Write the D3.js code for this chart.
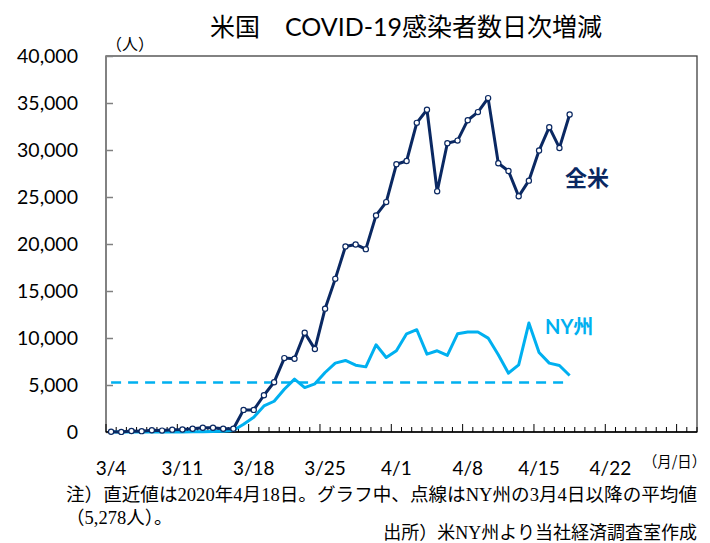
<!DOCTYPE html>
<html>
<head>
<meta charset="utf-8">
<script src="https://cdn.jsdelivr.net/npm/d3@7"></script>
<style>
    body { margin: 0; background: #fff; }
    svg { display: block; }
</style>
</head>
<body>
<div id="chart"></div>
<script>
// values (3/4 .. 4/18)
var usValues = [30, 10, 110, 90, 180, 150, 250, 270, 350, 460, 460, 350, 350, 2350, 2350, 3910, 5300,
    7860, 7790, 10560, 8820, 13120, 16290, 19730, 19950, 19450, 23040, 24460, 28480, 28830, 32890,
    34280, 25600, 30720, 31000, 33170, 34030, 35520, 28590, 27770, 25070, 26740, 29940, 32430, 30220, 33780];
var nyValues = [0, 0, 0, 0, 0, 0, 0, 10, 20, 30, 50, 90, 150, 820, 1560, 2770, 3270, 4550, 5620, 4730,
    5120, 6330, 7330, 7610, 7110, 6930, 9280, 7930, 8640, 10450, 10880, 8280, 8640, 8140, 10450,
    10630, 10630, 9990, 8210, 6260, 7150, 11590, 8460, 7330, 7080, 6010];
var nyAverage = 5278;
var xTickLabels = ["3/4", "3/11", "3/18", "3/25", "4/1", "4/8", "4/15", "4/22"];
var yTicks = [0, 5000, 10000, 15000, 20000, 25000, 30000, 35000, 40000];

// x categories: every day from 3/4 to 4/30
var days = [];
for (var d = 4; d <= 31; d++) days.push("3/" + d);
for (var d = 1; d <= 30; d++) days.push("4/" + d);

var width = 710, height = 543;
var plotLeft = 106, plotRight = 697, plotTop = 56, plotBottom = 432;
var navy = "#0a2862", cyan = "#00b0f0";
var latin = "Lato, 'Noto Sans CJK JP', sans-serif";
var jp = "'Noto Sans CJK JP', sans-serif";

var svg = d3.select("#chart").append("svg")
    .attr("width", width)
    .attr("height", height);

var x = d3.scaleBand().domain(days).range([plotLeft, plotRight]).padding(0);
var y = d3.scaleLinear().domain([0, 40000]).range([plotBottom, plotTop]);
var cx = function(i) { return x(days[i]) + x.bandwidth() / 2; };

// title
svg.append("text")
    .attr("x", 406)
    .attr("y", 36)
    .attr("text-anchor", "middle")
    .attr("font-family", latin)
    .attr("font-size", 25)
    .attr("fill", "#000")
    .text("米国　COVID-19感染者数日次増減");

svg.append("text")
    .attr("x", 106)
    .attr("y", 50)
    .attr("font-family", jp)
    .attr("font-size", 16)
    .text("（人）");

// frame
svg.append("rect")
    .attr("x", plotLeft)
    .attr("y", plotTop)
    .attr("width", plotRight - plotLeft)
    .attr("height", plotBottom - plotTop)
    .attr("fill", "none")
    .attr("stroke", "#404040")
    .attr("stroke-width", 1.3);

// y axis
var yAxis = svg.append("g")
    .attr("transform", "translate(" + plotLeft + ",0)")
    .call(d3.axisLeft(y).tickValues(yTicks).tickFormat(d3.format(",")).tickSize(-7).tickPadding(28));
yAxis.select(".domain").remove();
yAxis.selectAll(".tick line").attr("stroke", "#808080").attr("stroke-width", 1.5);
yAxis.selectAll(".tick text")
    .attr("font-family", latin)
    .attr("font-size", 19.5)
    .attr("fill", "#000");

// x axis ticks at category boundaries
var xTicks = svg.append("g");
for (let k = 0; k <= days.length; k++) {
    var tx = plotLeft + k * x.step();
    xTicks.append("line")
        .attr("x1", tx).attr("x2", tx)
        .attr("y1", plotBottom)
        .attr("y2", plotBottom - (k % 7 == 0 ? 8 : 5))
        .attr("stroke", "#000")
        .attr("stroke-width", 1);
}
svg.append("line")
    .attr("x1", plotLeft).attr("x2", plotRight)
    .attr("y1", plotBottom).attr("y2", plotBottom)
    .attr("stroke", "#000")
    .attr("stroke-width", 1.5);

svg.append("g").selectAll("text")
    .data(xTickLabels)
    .join("text")
    .attr("x", function(t) { return x(t) + x.bandwidth() / 2; })
    .attr("y", 475)
    .attr("text-anchor", "middle")
    .attr("font-family", latin)
    .attr("font-size", 19)
    .attr("fill", "#000")
    .text(function(t) { return t; });

svg.append("text")
    .attr("x", 643)
    .attr("y", 467)
    .attr("font-family", jp)
    .attr("font-size", 15)
    .attr("textLength", 63)
    .attr("lengthAdjust", "spacingAndGlyphs")
    .text("（月/日）");

// NY average (dashed)
svg.append("line")
    .attr("x1", cx(0))
    .attr("x2", cx(nyValues.length - 1))
    .attr("y1", y(nyAverage))
    .attr("y2", y(nyAverage))
    .attr("stroke", cyan)
    .attr("stroke-width", 2.5)
    .attr("stroke-dasharray", "10,7");

var line = d3.line()
    .x(function(v, i) { return cx(i); })
    .y(function(v) { return y(v); });

svg.append("path")
    .datum(nyValues)
    .attr("d", line)
    .attr("fill", "none")
    .attr("stroke", cyan)
    .attr("stroke-width", 3)
    .attr("stroke-linejoin", "round");

svg.append("path")
    .datum(usValues)
    .attr("d", line)
    .attr("fill", "none")
    .attr("stroke", navy)
    .attr("stroke-width", 3)
    .attr("stroke-linejoin", "round");

svg.append("g").selectAll("circle")
    .data(usValues)
    .join("circle")
    .attr("cx", function(v, i) { return cx(i); })
    .attr("cy", function(v) { return y(v); })
    .attr("r", 2.6)
    .attr("fill", "#fff")
    .attr("stroke", navy)
    .attr("stroke-width", 1.2);

// series labels
svg.append("text")
    .attr("x", 565)
    .attr("y", 186)
    .attr("font-family", jp)
    .attr("font-weight", "bold")
    .attr("font-size", 22)
    .attr("fill", navy)
    .text("全米");

svg.append("text")
    .attr("x", 545)
    .attr("y", 334)
    .attr("font-family", latin)
    .attr("font-weight", "bold")
    .attr("font-size", 20)
    .attr("fill", cyan)
    .text("NY州");

// notes
var serif = "'Liberation Serif', 'Noto Sans CJK JP', serif";
svg.append("text")
    .attr("x", 66)
    .attr("y", 501)
    .attr("font-family", serif)
    .attr("font-size", 18.5)
    .attr("textLength", 631)
    .attr("lengthAdjust", "spacingAndGlyphs")
    .text("注）直近値は2020年4月18日。グラフ中、点線はNY州の3月4日以降の平均値");
svg.append("text")
    .attr("x", 66)
    .attr("y", 524)
    .attr("font-family", serif)
    .attr("font-size", 18.5)
    .text("（5,278人）。");
svg.append("text")
    .attr("x", 697)
    .attr("y", 539)
    .attr("text-anchor", "end")
    .attr("font-family", serif)
    .attr("font-size", 18)
    .text("出所）米NY州より当社経済調査室作成");
</script>
</body>
</html>
